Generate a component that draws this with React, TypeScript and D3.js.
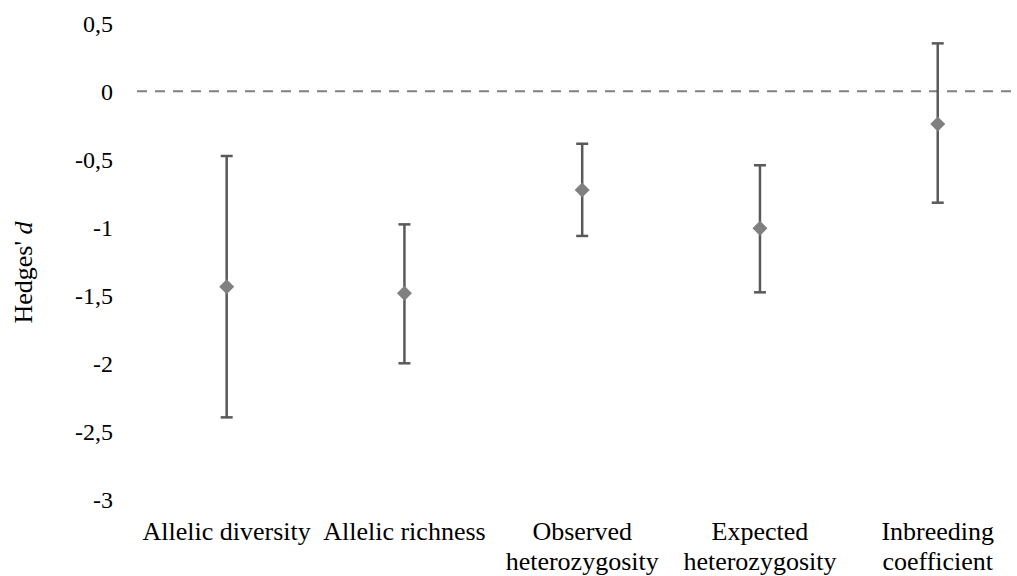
import React from "react";
import * as d3 from "d3";

const categories = ["Allelic diversity", "Allelic richness", "Observed\nheterozygosity", "Expected\nheterozygosity", "Inbreeding\ncoefficient"];
const estimates = [-1.435, -1.483, -0.725, -1.006, -0.24];
const lowerCI = [-2.394, -1.997, -1.062, -1.476, -0.818];
const upperCI = [-0.475, -0.977, -0.385, -0.543, 0.352];
const yTicks = [0.5, 0, -0.5, -1, -1.5, -2, -2.5, -3];
const yTickLabels = ["0,5", "0", "-0,5", "-1", "-1,5", "-2", "-2,5", "-3"];

const W = 1017;
const H = 576;
const FONT = "Liberation Serif";

export default function App() {
  const y = d3.scaleLinear().domain([-3, 0.5]).range([499.9, 23.2]);
  const x = d3.scaleBand<string>().domain(categories).range([137.8, 1026.6]).padding(0);
  const cx = (c: string) => (x(c) as number) + x.bandwidth() / 2;
  const capHalf = 6;
  const dHalf = 7.5;

  return (
    <svg width={W} height={H} style={{ position: "fixed", left: 0, top: 0, background: "#fff", fontFamily: FONT }}>
      <rect x={0} y={0} width={W} height={H} fill="#fff" />
      {/* zero reference line */}
      <line x1={137} x2={W} y1={y(0)} y2={y(0)} stroke="#808080" strokeWidth={2} strokeDasharray="10,8" />
      {/* y tick labels */}
      {yTicks.map((t, i) => (
        <text key={t} x={113} y={y(t) + 8.5} textAnchor="end" fontSize={24} fill="#000" style={{ fontFamily: FONT }}>
          {yTickLabels[i]}
        </text>
      ))}
      {/* y axis title */}
      <text transform={`translate(32,272.5) rotate(-90)`} textAnchor="middle" fontSize={26} fill="#000" style={{ fontFamily: FONT }}>
        Hedges'<tspan fontStyle="italic"> d</tspan>
      </text>
      {/* error bars */}
      {categories.map((c, i) => {
        const xc = cx(c);
        return (
          <g key={c}>
            <line x1={xc} x2={xc} y1={y(upperCI[i])} y2={y(lowerCI[i])} stroke="#595959" strokeWidth={2.5} />
            <line x1={xc - capHalf} x2={xc + capHalf} y1={y(upperCI[i])} y2={y(upperCI[i])} stroke="#595959" strokeWidth={2.5} />
            <line x1={xc - capHalf} x2={xc + capHalf} y1={y(lowerCI[i])} y2={y(lowerCI[i])} stroke="#595959" strokeWidth={2.5} />
            <path
              d={`M${xc},${y(estimates[i]) - dHalf} L${xc + dHalf},${y(estimates[i])} L${xc},${y(estimates[i]) + dHalf} L${xc - dHalf},${y(estimates[i])} Z`}
              fill="#808080"
            />
          </g>
        );
      })}
      {/* category labels */}
      {categories.map((c) => {
        const lines = c.split("\n");
        return (
          <text key={c} x={cx(c)} y={540} textAnchor="middle" fontSize={26} fill="#000" style={{ fontFamily: FONT }}>
            {lines.map((l, j) => (
              <tspan key={j} x={cx(c)} y={540 + j * 30}>
                {l}
              </tspan>
            ))}
          </text>
        );
      })}
    </svg>
  );
}
